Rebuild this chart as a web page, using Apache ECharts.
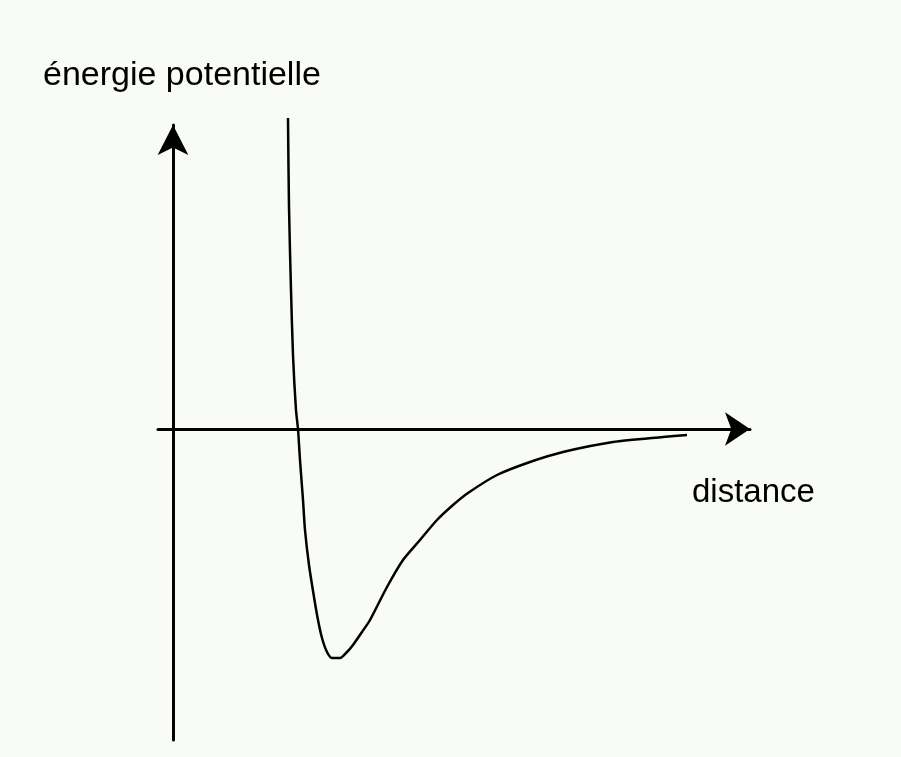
<!DOCTYPE html>
<html>
<head>
<meta charset="utf-8">
<script src="https://cdn.jsdelivr.net/npm/echarts@6/dist/echarts.min.js"></script>
<style>
html,body{margin:0;padding:0;background:#f9fbf6;}
#chart{width:901px;height:757px;}
</style>
</head>
<body>
<div id="chart"></div>
<script>
// distance (arbitrary units) and potential energy (arbitrary units)
const distance = [1.15, 1.16, 1.18, 1.20, 1.23, 1.25, 1.27, 1.30, 1.32, 1.36, 1.41, 1.45, 1.49, 1.54, 1.59, 1.67, 1.74, 1.80, 1.89, 1.97, 2.14, 2.30, 2.47, 2.64, 2.80, 2.95, 3.24, 3.57, 3.90, 4.40, 4.90, 5.14];
const energy   = [3.11, 2.22, 1.39, 0.74, 0.19, 0.00, -0.31, -0.71, -1.01, -1.36, -1.68, -1.91, -2.09, -2.23, -2.29, -2.29, -2.23, -2.16, -2.03, -1.91, -1.58, -1.31, -1.11, -0.91, -0.76, -0.64, -0.46, -0.33, -0.23, -0.13, -0.08, -0.06];
const yAxisTitle = 'énergie potentielle';
const xAxisTitle = 'distance';

const chart = echarts.init(document.getElementById('chart'), null, {renderer: 'canvas'});
const pts = distance.map((d, i) => [d, energy[i]]);
const axisCommon = {
  type: 'value',
  splitLine: {show: false},
  axisTick: {show: false},
  axisLabel: {show: false},
};
chart.setOption({
  backgroundColor: '#f9fbf6',
  animation: false,
  grid: {left: 158, right: 151, top: 125, bottom: 17, containLabel: false},
  xAxis: Object.assign({}, axisCommon, {
    min: -0.15, max: 5.77,
    axisLine: {onZero: true, symbol: ['none', 'arrow'], symbolSize: [25, 25],
      lineStyle: {color: '#000', width: 3}}
  }),
  yAxis: Object.assign({}, axisCommon, {
    min: -3.11, max: 3.04,
    axisLine: {onZero: true, symbol: ['none', 'arrow'], symbolSize: [23, 30],
      lineStyle: {color: '#000', width: 3}}
  }),
  graphic: [
    {type: 'text', left: 43, top: 59, style: {text: yAxisTitle, font: '34px "Liberation Sans", Arial, sans-serif', fill: '#000'}},
    {type: 'text', left: 692, top: 476, style: {text: xAxisTitle, font: '33px "Liberation Sans", Arial, sans-serif', fill: '#000'}}
  ],
  series: [{
    type: 'line',
    data: pts,
    clip: false,
    showSymbol: false,
    smooth: 0.25,
    lineStyle: {color: '#000', width: 2.5}
  }]
});
</script>
</body>
</html>
